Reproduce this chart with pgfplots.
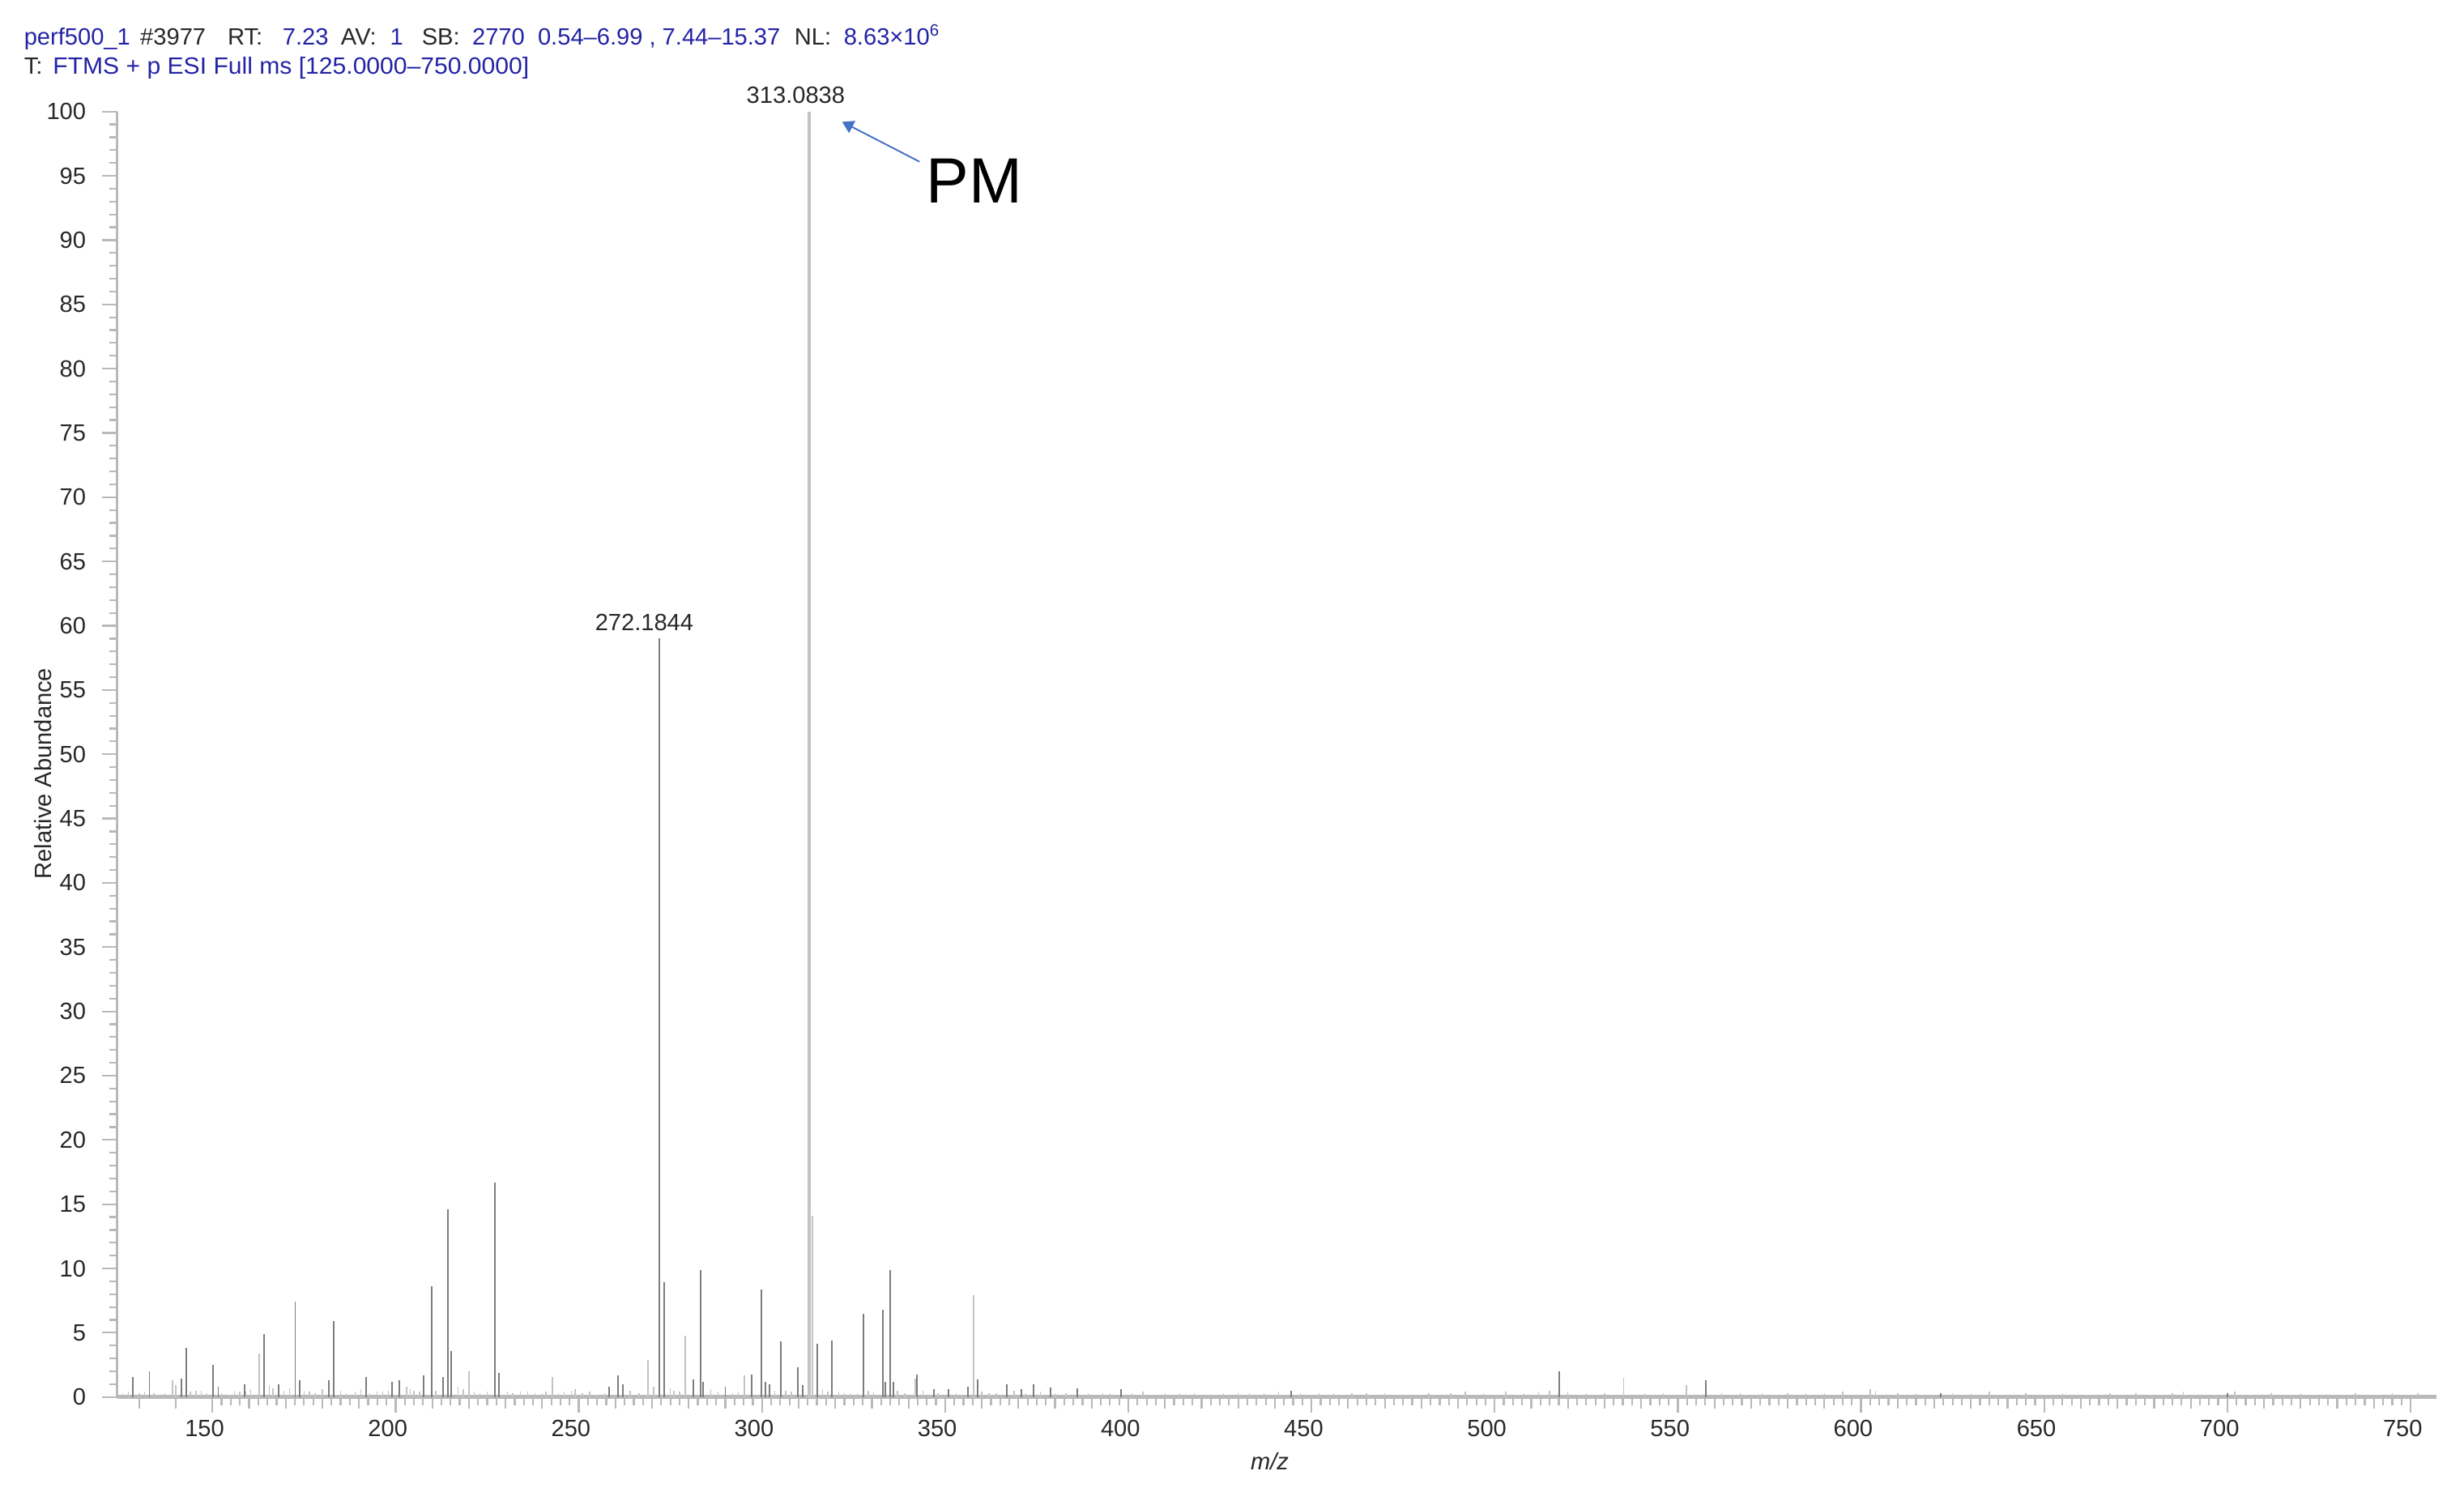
\documentclass[border=0pt]{standalone}
\usepackage{pgfplots}
\pgfplotsset{compat=1.18}
\usepackage{pgfplotstable}
\usepackage{graphicx}
\usepackage{fontspec}
\setmainfont{Liberation Sans}
\usetikzlibrary{arrows.meta}
\definecolor{hdrblue}{RGB}{35,35,165}
\definecolor{axgray}{RGB}{185,185,185}
\definecolor{pkdark}{RGB}{125,125,125}
\definecolor{pklight}{RGB}{195,195,195}
\definecolor{pmblue}{RGB}{68,114,196}
\definecolor{txt}{RGB}{40,40,40}
\newcommand{\hdr}{\fontsize{10.5}{12}\selectfont}

\pgfplotstableread{
mz h
128.2 1.55
132.8 2.0
141.5 1.45
142.8 3.8
150.1 2.5
151.6 0.8
158.7 1.0
164.0 4.9
168.0 1.0
172.6 7.4
173.8 1.3
181.8 1.3
183.2 5.9
191.9 1.55
199.1 1.2
201.1 1.3
207.7 1.7
209.8 8.6
213.0 1.55
214.3 14.6
215.1 3.6
227.0 16.65
228.2 1.9
258.2 0.8
260.7 1.7
262.1 1.0
272.05 59
273.3 8.9
281.3 1.35
283.3 9.9
283.9 1.2
290.0 0.8
297.2 1.75
299.8 8.35
300.9 1.2
302.1 1.0
305.2 4.3
309.8 2.3
311.2 0.9
315.0 4.15
319.0 4.4
327.7 6.45
333.0 6.8
333.6 1.2
335.1 9.85
335.8 1.2
342.3 1.75
346.9 0.6
350.9 0.6
356.3 0.8
358.8 1.35
366.9 1.0
370.8 0.6
374.1 1.0
378.8 0.75
386.1 0.7
398.0 0.6
444.4 0.5
517.7 2.0
557.7 1.3
621.8 0.3
700.0 0.3
}\darkpeaks

\pgfplotstableread{
mz h
139.2 1.3
162.8 3.4
220.1 2.0
242.7 1.55
268.8 2.9
270.5 0.8
279.1 4.75
295.3 1.7
313.7 14.1
341.8 1.4
357.7 7.95
535.2 1.5
552.4 0.9
602.5 0.6
}\lightpeaks

\pgfplotstableread{
mz h
312.9 100
}\basepeak

\pgfplotstableread{
mz h
125.5 0.3
127 0.4
130 0.3
131.5 0.4
134 0.3
135.5 0.2
137 0.3
140 0.9
144 0.4
145.5 0.5
147 0.5
148.5 0.3
152.5 0.3
154.5 0.2
156 0.4
157.5 0.4
159 0.4
160.5 0.6
165.5 0.9
166.5 0.7
169.5 0.5
171 0.7
175 0.5
176.5 0.4
178 0.3
180 0.6
185 0.5
186.5 0.3
189 0.4
190.5 0.6
193 0.3
195 0.4
196.5 0.4
198 0.5
203 0.8
204 0.6
205 0.5
206.5 0.4
211 0.5
217 0.8
218.5 0.6
221.5 0.4
223 0.3
225 0.4
230.5 0.4
232 0.3
234 0.4
236 0.4
238 0.3
240 0.3
241 0.4
244.5 0.3
246 0.4
248 0.5
249 0.6
251 0.3
253 0.4
255 0.2
257 0.3
264 0.5
266.5 0.3
275 0.7
276 0.5
277.5 0.4
286 0.6
288 0.4
292 0.3
293.5 0.4
303.5 0.5
306.5 0.5
308 0.4
316.5 0.6
318 0.4
321 0.4
322.5 0.3
324 0.3
326 0.3
329 0.5
330.5 0.4
337 0.5
339 0.3
344 0.5
348 0.3
353 0.3
360 0.4
362 0.3
364 0.3
368.8 0.5
372 0.3
376 0.4
380 0.3
383 0.3
389 0.3
393 0.3
395 0.3
401 0.3
404 0.4
410 0.3
414 0.3
418 0.3
422 0.2
426 0.3
430 0.3
433 0.3
437 0.3
441 0.4
447 0.3
452 0.3
456 0.3
461 0.3
465 0.3
470 0.3
476 0.2
482 0.3
488 0.3
492 0.4
497 0.3
503 0.4
508 0.3
512 0.4
515 0.5
520 0.4
525 0.3
530 0.3
541 0.3
546 0.3
562 0.3
567 0.3
573 0.3
580 0.3
585 0.3
590 0.3
595 0.4
604 0.5
610 0.3
615 0.3
625 0.3
630 0.3
635 0.4
645 0.3
655 0.3
668 0.3
675 0.3
685 0.3
688 0.4
702 0.4
712 0.3
720 0.3
735 0.3
745 0.3
752 0.3
}\noise

\begin{document}
\begin{tikzpicture}
\begin{axis}[
  scale only axis, width=1033pt, height=572.6pt,
  xmin=124, xmax=757, ymin=0, ymax=100,
  axis x line*=bottom, axis y line*=left,
  x axis line style={axgray, line width=1.6pt},
  y axis line style={axgray, line width=1pt},
  xtick={150,200,...,750}, minor x tick num=19,
  ytick={0,5,...,100}, minor y tick num=4,
  tick align=outside,
  major tick length=6.8pt, minor tick length=3.6pt,
  tick style={axgray, line width=0.8pt},
  /pgf/number format/assume math mode=true,
  ticklabel style={font=\hdr, text=txt},
  xticklabel style={xshift=-3.5pt},
  yticklabel style={xshift=-3.6pt},
  extra x ticks={130,140,160,170,180,190,210,220,230,240,260,270,280,290,310,320,330,340,360,370,380,390,410,420,430,440,460,470,480,490,510,520,530,540,560,570,580,590,610,620,630,640,660,670,680,690,710,720,730,740},
  extra x tick labels={},
  extra x tick style={major tick length=5pt},
  ylabel={Relative Abundance},
  ylabel style={font=\hdr, text=txt, at={(axis description cs:0,0.485)}, anchor=center, yshift=33.2pt},
  xlabel={\textit{m/z}},
  xlabel style={font=\hdr, text=txt, at={(axis description cs:0.497,0)}, anchor=center, yshift=-28.7pt},
  clip=false,
]
\addplot[ycomb, no markers, pklight, line width=0.5pt] table[x=mz, y=h] {\noise};
\addplot[ycomb, no markers, pklight, line width=0.7pt] table[x=mz, y=h] {\lightpeaks};
\addplot[ycomb, no markers, pkdark, line width=0.7pt] table[x=mz, y=h] {\darkpeaks};
\addplot[ycomb, no markers, pklight, line width=1.6pt] table[x=mz, y=h] {\basepeak};

\node[anchor=south, font=\hdr, text=txt, xshift=-6pt] at (axis cs:312.9,100) {313.0838};
\node[anchor=south, font=\hdr, text=txt, xshift=-6.8pt] at (axis cs:272.05,59) {272.1844};
\node[font=\fontsize{28.5}{30}\selectfont, text=black] at (axis cs:358.0,94.6) {PM};
\draw[pmblue, line width=0.7pt, -{Triangle[length=5pt,width=6pt]}] (axis cs:343.0,96.1) -- (axis cs:321.9,99.2);
\end{axis}

% header
\begin{scope}[every node/.style={inner sep=0pt, anchor=base west, font=\hdr}]
\node[text=hdrblue] at (-41.65pt,602.2pt) {perf500\_1};
\node[text=txt] at (10.1pt,602.2pt) {\#3977};
\node[text=txt] at (49pt,602.2pt) {RT:};
\node[text=hdrblue] at (73.5pt,602.2pt) {7.23};
\node[text=txt] at (99.5pt,602.2pt) {AV:};
\node[text=hdrblue] at (121.4pt,602.2pt) {1};
\node[text=txt] at (135.5pt,602.2pt) {SB:};
\node[text=hdrblue] at (158pt,602.2pt) {2770};
\node[text=hdrblue] at (187.2pt,602.2pt) {0.54\textendash6.99 , 7.44\textendash15.37};
\node[text=txt] at (301.5pt,602.2pt) {NL:};
\node[text=hdrblue] at (323.5pt,602.2pt) {8.63×10\textsuperscript{6}};
\node[text=txt] at (-41.65pt,589.4pt) {T:};
\node[text=hdrblue] at (-28.8pt,589.4pt) {\scalebox{1.034}[1]{FTMS + p ESI Full ms [125.0000\textendash750.0000]}};
\end{scope}

\pgfresetboundingbox
\path[use as bounding box] (-52.2pt,-42pt) rectangle (1045.4pt,622.3pt);
\end{tikzpicture}
\end{document}
